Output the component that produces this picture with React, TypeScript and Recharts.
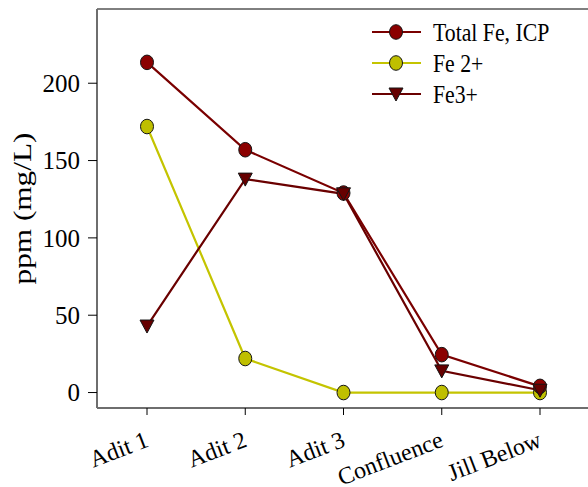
import React from "react"
import { LineChart, Line, XAxis, YAxis, ReferenceLine } from "recharts"

const sites = ["Adit 1", "Adit 2", "Adit 3", "Confluence", "Jill Below"]
const totalFe = [213.5, 157, 129, 24.5, 4]
const fe2 = [172, 22, 0, 0, 0]
const fe3 = [43, 138, 128.5, 14, 1.5]
const yTicks = [0, 50, 100, 150, 200]
const yDomain = [-10, 248]

const data = sites.map((site, i) => ({
  site,
  totalFe: totalFe[i],
  fe2: fe2[i],
  fe3: fe3[i],
}))

const FONT = "Liberation Serif"
const AXIS_GRAY = "#6e6e6e"
const TOTAL_LINE = "#7a0000"
const TOTAL_FILL = "#8b0000"
const FE2_LINE = "#c4c400"
const FE2_FILL = "#bfbf00"
const FE3_LINE = "#6a0000"
const FE3_FILL = "#660000"

type DotProps = { cx?: number; cy?: number; index?: number }

const circleDot = (fill: string) => (props: DotProps) => {
  const { cx, cy, index } = props
  if (cx == null || cy == null) return <g key={`e-${index}`} />
  return <ellipse key={`c-${index}`} cx={cx} cy={cy} rx={6.5} ry={7.3} fill={fill} stroke="#151515" strokeWidth={1} />
}

const triangleDot = (props: DotProps) => {
  const { cx, cy, index } = props
  if (cx == null || cy == null) return <g key={`e-${index}`} />
  const pts = `${cx - 7},${cy - 6} ${cx + 7},${cy - 6} ${cx},${cy + 7}`
  return <polygon key={`t-${index}`} points={pts} fill={FE3_FILL} stroke="#151515" strokeWidth={1} />
}

function SiteTick(props: any) {
  const { x, y, payload } = props
  const ax = x + 3
  const ay = y + 29
  return (
    <text
      x={ax}
      y={ay}
      textAnchor="end"
      fontFamily={FONT}
      fontSize={24}
      fill="#000"
      transform={`rotate(-21, ${ax}, ${ay})`}
    >
      {payload.value}
    </text>
  )
}

function YTitle(props: any) {
  const vb = props.viewBox || { x: 0, y: 9, width: 97, height: 399 }
  const x = vb.x + 31
  const y = vb.y + vb.height / 2
  return (
    <text
      fontFamily={FONT}
      fontSize={25}
      fill="#000"
      textAnchor="middle"
      transform={`translate(${x}, ${y}) rotate(-90) scale(1.25, 1)`}
    >
      ppm (mg/L)
    </text>
  )
}

const legendItems = [
  { label: "Total Fe, ICP", line: TOTAL_LINE, fill: TOTAL_FILL, shape: "circle" },
  { label: "Fe 2+", line: FE2_LINE, fill: FE2_FILL, shape: "circle" },
  { label: "Fe3+", line: FE3_LINE, fill: FE3_FILL, shape: "triangle" },
]

function LegendBox() {
  return (
    <svg width={200} height={100} style={{ position: "absolute", left: 365, top: 17 }}>
      {legendItems.map((item, i) => {
        const cy = 15 + i * 31
        return (
          <g key={item.label}>
            <line x1={7} x2={56} y1={cy} y2={cy} stroke={item.line} strokeWidth={2} />
            {item.shape === "circle" ? (
              <ellipse cx={31} cy={cy} rx={6.5} ry={7.3} fill={item.fill} stroke="#151515" strokeWidth={1} />
            ) : (
              <polygon
                points={`${24},${cy - 6} ${38},${cy - 6} ${31},${cy + 7}`}
                fill={item.fill}
                stroke="#151515"
                strokeWidth={1}
              />
            )}
            <text
              fontFamily={FONT}
              fontSize={25}
              fill="#000"
              transform={`translate(68, ${cy + 9}) scale(0.87, 1)`}
            >
              {item.label}
            </text>
          </g>
        )
      })}
    </svg>
  )
}

export default function App() {
  return (
    <div
      style={{
        position: "absolute",
        left: 0,
        top: 0,
        width: 588,
        height: 487,
        background: "#fff",
        fontFamily: FONT,
      }}
    >
      <LineChart width={588} height={487} data={data} margin={{ top: 9, right: 0, bottom: 0, left: 0 }}>
        <XAxis
          dataKey="site"
          height={79}
          padding={{ left: 50, right: 48 }}
          axisLine={{ stroke: AXIS_GRAY, strokeWidth: 2 }}
          tickLine={{ stroke: "#000", strokeWidth: 1 }}
          tickSize={7}
          tickMargin={2}
          tick={<SiteTick />}
          interval={0}
        />
        <YAxis
          width={97}
          domain={yDomain}
          ticks={yTicks}
          allowDataOverflow
          axisLine={{ stroke: AXIS_GRAY, strokeWidth: 2 }}
          tickLine={{ stroke: "#000", strokeWidth: 1 }}
          tickSize={9}
          tickMargin={8}
          tick={{ fontFamily: FONT, fontSize: 25, fill: "#000" }}
          label={<YTitle />}
        />
        {/* frame line along the top of the plot */}
        <ReferenceLine y={yDomain[1]} stroke="#000" strokeWidth={1} ifOverflow="visible" />
        <Line
          dataKey="fe2"
          stroke={FE2_LINE}
          strokeWidth={2.2}
          dot={circleDot(FE2_FILL)}
          activeDot={false}
          isAnimationActive={false}
        />
        <Line
          dataKey="totalFe"
          stroke={TOTAL_LINE}
          strokeWidth={2.2}
          dot={circleDot(TOTAL_FILL)}
          activeDot={false}
          isAnimationActive={false}
        />
        <Line
          dataKey="fe3"
          stroke={FE3_LINE}
          strokeWidth={2.2}
          dot={triangleDot}
          activeDot={false}
          isAnimationActive={false}
        />
      </LineChart>
      <LegendBox />
    </div>
  )
}
